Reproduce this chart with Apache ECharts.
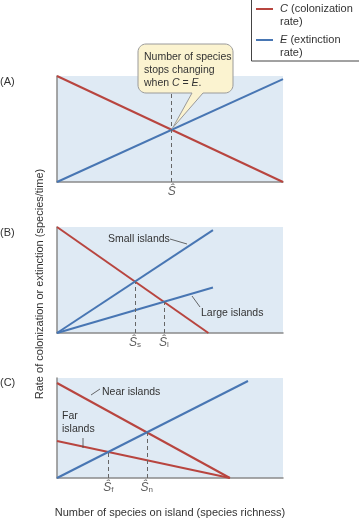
<!DOCTYPE html>
<html><head><meta charset="utf-8">
<script src="https://cdn.jsdelivr.net/npm/echarts@6/dist/echarts.min.js"></script>
<style>html,body{margin:0;padding:0;background:#fff}#c{width:359px;height:519px}</style>
</head><body><div id="c"></div>
<script>
// ---- data (rates on a 0-100 relative scale, species richness 0-100) ----
const panelLabels = ['(A)', '(B)', '(C)'];
const legendNames = ['C (colonization rate)', 'E (extinction rate)'];
// Panel A
const colA = [[0, 100], [100, 0]];
const extA = [[0, 0], [100, 97]];
// Panel B
const colB = [[0, 100], [67, 0]];
const extSmall = [[0, 0], [69, 97]];
const extLarge = [[0, 0], [69, 43]];
// Panel C
const colNear = [[0, 95], [76.5, 0]];
const colFar = [[0, 37], [76.5, 0]];
const extC = [[0, 0], [84.5, 97]];
// equilibrium labels
const eqLabelsA = [['Ŝ', '']];
const eqLabelsB = [['Ŝ', 's'], ['Ŝ', 'l']];
const eqLabelsC = [['Ŝ', 'f'], ['Ŝ', 'n']];

const RED = '#b8453f', BLUE = '#4876b3', BG = '#dfeaf4', AX = '#8a8a8a', TXT = '#333';
const FONT = '"Liberation Sans", Arial, sans-serif';

function intersect(l1, l2) {
  const [[x1, y1], [x2, y2]] = l1, [[x3, y3], [x4, y4]] = l2;
  const m1 = (y2 - y1) / (x2 - x1), m2 = (y4 - y3) / (x4 - x3);
  const x = (y3 - y1 + m1 * x1 - m2 * x3) / (m1 - m2);
  return [x, y1 + m1 * (x - x1)];
}

const grids = [
  {left: 57, top: 76, width: 226, height: 106},
  {left: 57, top: 227, width: 226, height: 106},
  {left: 57, top: 378, width: 226, height: 106}
].map(g => Object.assign(g, {show: true, backgroundColor: BG, borderWidth: 0}));

const xAxes = [0, 1, 2].map(i => ({
  type: 'value', gridIndex: i, min: 0, max: 100,
  axisLine: {show: true, lineStyle: {color: AX, width: 1.5}},
  axisTick: {show: false}, axisLabel: {show: false}, splitLine: {show: false}
}));
xAxes[2].name = 'Number of species on island (species richness)';
xAxes[2].nameLocation = 'middle';
xAxes[2].nameGap = 29;
xAxes[2].nameTextStyle = {fontFamily: FONT, fontSize: 11, color: TXT};

const yAxes = [0, 1, 2].map(i => ({
  type: 'value', gridIndex: i, min: 0, max: 100,
  axisLine: {show: true, lineStyle: {color: AX, width: 1.5}},
  axisTick: {show: false}, axisLabel: {show: false}, splitLine: {show: false}
}));

function lineSeries(name, data, color, gi) {
  return {type: 'line', name, data, xAxisIndex: gi, yAxisIndex: gi, symbol: 'none',
    silent: true, z: 3, lineStyle: {color, width: 2}, itemStyle: {color}};
}

function eqSeries(gi, points, labels, fullTop) {
  return {
    type: 'scatter', xAxisIndex: gi, yAxisIndex: gi, silent: true, symbolSize: 0,
    data: points.map((p, k) => ({value: [p[0], 0], lab: labels[k]})),
    label: {
      show: true, position: 'bottom', distance: 2,
      formatter: prm => '{s|' + prm.data.lab[0] + '}' + (prm.data.lab[1] ? '{sub|' + prm.data.lab[1] + '}' : ''),
      rich: {
        s: {fontFamily: FONT, fontSize: 12, fontStyle: 'italic', color: TXT, lineHeight: 14, verticalAlign: 'bottom'},
        sub: {fontFamily: FONT, fontSize: 8, color: TXT, lineHeight: 14, verticalAlign: 'bottom', padding: [6, 0, 0, 0]}
      }
    },
    markLine: {
      silent: true, symbol: 'none', label: {show: false},
      lineStyle: {color: '#666', type: [4, 3], width: 1},
      data: points.map(p => [{coord: [p[0], 0]}, {coord: [p[0], fullTop ? 100 : p[1]]}])
    }
  };
}

const eqA = intersect(colA, extA);
const eqBs = intersect(colB, extSmall), eqBl = intersect(colB, extLarge);
const eqCf = intersect(colFar, extC), eqCn = intersect(colNear, extC);

const series = [
  lineSeries(legendNames[0], colA, RED, 0),
  lineSeries(legendNames[1], extA, BLUE, 0),
  lineSeries(legendNames[0], colB, RED, 1),
  lineSeries(legendNames[1], extSmall, BLUE, 1),
  lineSeries(legendNames[1], extLarge, BLUE, 1),
  lineSeries(legendNames[0], colNear, RED, 2),
  lineSeries(legendNames[0], colFar, RED, 2),
  lineSeries(legendNames[1], extC, BLUE, 2),
  eqSeries(0, [eqA], eqLabelsA, true),
  eqSeries(1, [eqBs, eqBl], eqLabelsB, false),
  eqSeries(2, [eqCf, eqCn], eqLabelsC, false)
];

const chart = echarts.init(document.getElementById('c'), null, {renderer: 'canvas'});
chart.setOption({animation: false, grid: grids, xAxis: xAxes, yAxis: yAxes, series});

function txt(x, y, text, extra) {
  return Object.assign({type: 'text', x, y, z: 50,
    style: Object.assign({text, fontFamily: FONT, fontSize: 11, fill: TXT, verticalAlign: 'middle'}, extra || {})});
}
function seg(x1, y1, x2, y2) {
  return {type: 'line', z: 50, shape: {x1, y1, x2, y2}, style: {stroke: '#444', lineWidth: 0.8}};
}
const richIt = {i: {fontStyle: 'italic', fontFamily: FONT, fontSize: 11, fill: TXT}};
const richIt2 = {i: {fontStyle: 'italic', fontFamily: FONT, fontSize: 10.5, fill: TXT}};
const S2 = {fontSize: 10.5};

// callout pointing at the panel A equilibrium (rounded box + pointer as a polygon)
const tip = chart.convertToPixel({gridIndex: 0}, eqA);
const bx0 = 138, by0 = 44, bx1 = 233, by1 = 93, r = 8, p1 = 192, p2 = 203;
function arc(cx, cy, a0, a1) {
  const pts = [];
  for (let k = 0; k <= 8; k++) {
    const a = a0 + (a1 - a0) * k / 8;
    pts.push([cx + r * Math.cos(a), cy + r * Math.sin(a)]);
  }
  return pts;
}
const PI = Math.PI;
const calloutPts = [].concat(
  arc(bx1 - r, by0 + r, -PI / 2, 0),
  arc(bx1 - r, by1 - r, 0, PI / 2),
  [[p2, by1], [tip[0] + 1, tip[1] - 2], [p1, by1]],
  arc(bx0 + r, by1 - r, PI / 2, PI),
  arc(bx0 + r, by0 + r, PI, 1.5 * PI)
);

const graphic = [
  // legend box
  {type: 'rect', z: 50, shape: {x: 251.5, y: -1, width: 110, height: 62}, style: {fill: '#fff', stroke: '#444', lineWidth: 1}},
  {type: 'line', z: 51, shape: {x1: 256, y1: 9, x2: 273, y2: 9}, style: {stroke: RED, lineWidth: 2}},
  {type: 'line', z: 51, shape: {x1: 256, y1: 40, x2: 273, y2: 40}, style: {stroke: BLUE, lineWidth: 2}},
  txt(280, 9, '{i|C} (colonization', {rich: richIt}),
  txt(280, 22, 'rate)'),
  txt(280, 40, '{i|E} (extinction', {rich: richIt}),
  txt(280, 53, 'rate)'),
  // callout
  {type: 'polygon', z: 60, shape: {points: calloutPts}, style: {fill: '#fbf3d0', stroke: '#9a9a9a', lineWidth: 1}},
  Object.assign(txt(144, 57, 'Number of species', S2), {z: 61}),
  Object.assign(txt(144, 70, 'stops changing', S2), {z: 61}),
  Object.assign(txt(144, 83, 'when {i|C} = {i|E}.', {rich: richIt2, fontSize: 10.5}), {z: 61}),
  // panel letters
  txt(0, 82, panelLabels[0]),
  txt(0, 233, panelLabels[1]),
  txt(0, 383, panelLabels[2]),
  // y axis title
  {type: 'text', z: 50, x: 40, y: 284, rotation: Math.PI / 2,
    style: {text: 'Rate of colonization or extinction (species/time)', fontFamily: FONT, fontSize: 11, fill: TXT, align: 'center', verticalAlign: 'middle'}},
  // annotations
  txt(108, 239, 'Small islands', S2), seg(170, 239, 187, 244),
  txt(201, 313, 'Large islands', S2), seg(192, 296, 200, 307),
  txt(102, 392, 'Near islands', S2), seg(91, 395, 100, 389),
  txt(62, 416, 'Far', S2), txt(62, 429, 'islands', S2), seg(83, 438, 83, 448)
];
chart.setOption({graphic});
</script>
</body></html>
